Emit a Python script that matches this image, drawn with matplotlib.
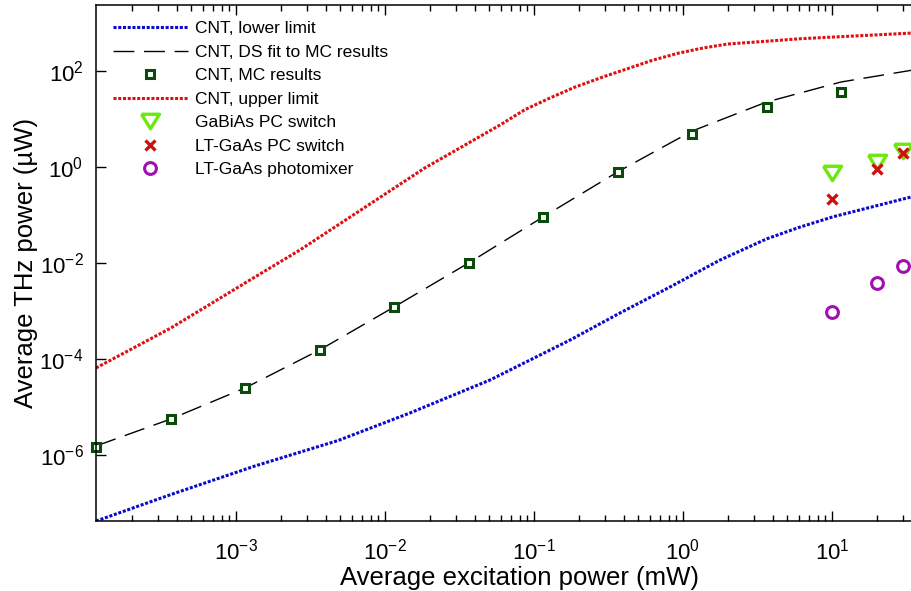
import math

import matplotlib
matplotlib.use("Agg")
import matplotlib.pyplot as plt
from matplotlib.ticker import FixedLocator, FuncFormatter, LogLocator, NullFormatter, NullLocator

plt.rcParams["font.family"] = ["Liberation Sans", "DejaVu Sans"]
plt.rcParams["mathtext.fontset"] = "custom"
plt.rcParams["mathtext.rm"] = "Liberation Sans"
plt.rcParams["mathtext.it"] = "Liberation Sans:italic"
plt.rcParams["axes.unicode_minus"] = False

# CNT lower limit (mW, uW)
lower_x = [1.15e-4, 3.66e-4, 1.34e-3, 4.84e-3, 1.47e-2, 5.07e-2, 0.175, 0.378,
           0.818, 1.77, 3.66, 6.1, 10.2, 34.4, 40.0]
lower_y = [4.2e-8, 1.5e-7, 5.9e-7, 2.0e-6, 7.5e-6, 3.65e-5, 2.49e-4, 9.1e-4,
           3.16e-3, 1.15e-2, 3.2e-2, 5.6e-2, 9.2e-2, 0.24, 0.26]

# CNT upper limit
upper_x = [1.15e-4, 3.66e-4, 1.34e-3, 2.69e-3, 4.84e-3, 1.85e-2, 5.92e-2, 0.0868,
           0.128, 0.188, 0.290, 0.630, 0.93, 1.36, 2.0, 3.84, 6.10, 34.4, 40.0]
upper_y = [6.5e-5, 4.43e-4, 5.1e-3, 1.87e-2, 6.19e-2, 0.953, 7.5, 15.6,
           27.4, 46.0, 75.0, 169.0, 235.0, 301.0, 365.0, 422.0, 470.0, 617.0, 625.0]

# MC excitation powers and results
mc_x = [1.15e-4, 3.64e-4, 1.15e-3, 3.64e-3, 1.15e-2, 3.64e-2, 0.115, 0.364,
        1.15, 3.64, 11.5, 36.4]
mc_y = [1.47e-6, 5.6e-6, 2.49e-5, 1.54e-4, 1.21e-3, 1.0e-2, 9.1e-2, 0.79,
        4.87, 17.8, 36.5, 48.7]

# DS fit to MC results
fit_y = [1.54e-6, 5.6e-6, 2.49e-5, 1.54e-4, 1.21e-3, 1.0e-2, 9.1e-2, 0.79,
         5.6, 22.6, 59.0, 107.0]

# Reference devices
dev_x = [10.0, 20.0, 30.0]
gabias_y = [0.75, 1.27, 2.15]
ltgaas_pc_y = [0.215, 0.91, 1.96]
ltgaas_pm_y = [9.5e-4, 3.83e-3, 8.66e-3]

x_major = [1e-3, 1e-2, 1e-1, 1e0, 1e1]
y_major = [1e-6, 1e-4, 1e-2, 1e0, 1e2]

W, H = 912, 591
fig = plt.figure(figsize=(W / 100, H / 100), dpi=100)
left_px, right_px, top_px, bot_px = 96, 981, 5, 521
ax = fig.add_axes([left_px / W, (H - bot_px) / H,
                   (right_px - left_px) / W, (bot_px - top_px) / H])

ax.set_xscale("log")
ax.set_yscale("log")
ax.set_xlim(1.15e-4, 1e2)
ax.set_ylim(10 ** -7.375, 10 ** 3.375)

tri_down = [(-1.0, 0.8), (1.0, 0.8), (0.0, -0.8), (-1.0, 0.8)]

ax.plot(lower_x, lower_y, color="#0a0acc", lw=2.2, linestyle=(0, (1, 0.55)),
        label="CNT, lower limit")
ax.plot(mc_x, fit_y, color="black", lw=1.0, linestyle=(0, (15, 7)),
        label="CNT, DS fit to MC results")
ax.plot(mc_x, mc_y, linestyle="none", marker="s", ms=5.2, mew=2.2,
        mec="#0a4a0a", mfc="white", clip_on=False, label="CNT, MC results")
ax.plot(upper_x, upper_y, color="#dd1111", lw=2.2, linestyle=(0, (1, 0.55)),
        label="CNT, upper limit")
ax.plot(dev_x, gabias_y, linestyle="none", marker=tri_down, ms=13, mew=2.4,
        mec="#6aea0a", mfc="none", label="GaBiAs PC switch")
ax.plot(dev_x, ltgaas_pc_y, linestyle="none", marker="x", ms=7, mew=2.4,
        mec="#cc1111", label="LT-GaAs PC switch")
ax.plot(dev_x, ltgaas_pm_y, linestyle="none", marker="o", ms=8.5, mew=2.2,
        mec="#a010b0", mfc="none", label="LT-GaAs photomixer")


def pow10_label(v, pos):
    return r"$10^{%d}$" % round(math.log10(v))


ax.xaxis.set_major_locator(FixedLocator(x_major))
ax.xaxis.set_minor_locator(LogLocator(base=10, subs=range(2, 10), numticks=20))
ax.xaxis.set_minor_formatter(NullFormatter())
ax.yaxis.set_major_locator(FixedLocator(y_major))
ax.yaxis.set_minor_locator(NullLocator())
ax.xaxis.set_major_formatter(FuncFormatter(pow10_label))
ax.yaxis.set_major_formatter(FuncFormatter(pow10_label))

ax.tick_params(which="both", direction="in", top=True, right=True,
               width=1.0, colors="black")
ax.tick_params(which="major", length=7, labelsize=16)
ax.tick_params(which="minor", length=4.5)
ax.tick_params(axis="x", which="major", pad=13)
ax.tick_params(axis="y", which="major", pad=9)
for s in ax.spines.values():
    s.set_linewidth(1.1)

ax.set_xlabel("Average excitation power (mW)", fontsize=18.5)
ax.xaxis.label.set_verticalalignment("baseline")
ax.xaxis.set_label_coords((520 - left_px) / (right_px - left_px),
                          -(585 - bot_px) / (bot_px - top_px))
ax.set_ylabel("Average THz power (\u00b5W)", fontsize=18.5, labelpad=1)

leg = ax.legend(loc="upper left", bbox_to_anchor=(113 / W, 1 - 21 / H),
                bbox_transform=fig.transFigure, frameon=False, fontsize=12.5,
                handlelength=4.3, handletextpad=0.45, labelspacing=0.48,
                borderpad=0, borderaxespad=0, numpoints=1)

fig.savefig("out.png", dpi=100)
